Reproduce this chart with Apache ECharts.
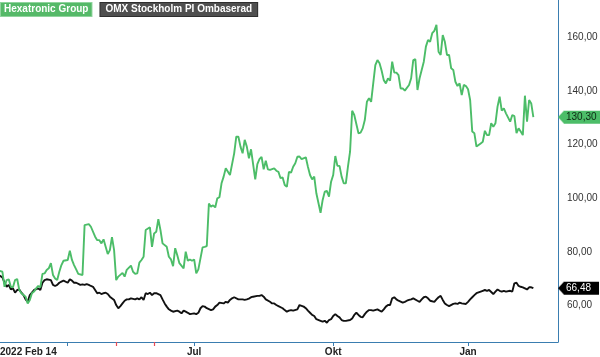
<!DOCTYPE html>
<html>
<head>
<meta charset="utf-8">
<script src="https://cdn.jsdelivr.net/npm/echarts@6/dist/echarts.min.js"></script>
<style>
html,body{margin:0;padding:0;background:#fff;}
#chart{width:600px;height:357px;}
</style>
</head>
<body>
<div id="chart"></div>
<script>
// ---- data: [trading day since 2022-02-14, value] ----
const hexatronic = [[0,73.3],[3,72.6],[4,67.0],[5,69.5],[6,69.8],[7,67.0],[8,66.8],[9,69.5],[10,69.9],[11,65.8],[12,64.6],[14,63.3],[15,60.8],[16,62.1],[17,64.6],[18,65.2],[19,66.4],[20,67.3],[21,66.8],[22,71.8],[23,72.0],[24,73.3],[25,73.9],[26,75.8],[27,71.4],[28,70.1],[29,69.5],[30,72.6],[31,75.1],[32,76.7],[34,77.0],[35,80.5],[36,77.0],[37,75.1],[38,73.5],[39,71.8],[41,71.4],[42,90.0],[44,90.4],[45,89.4],[47,85.7],[48,84.4],[49,84.4],[50,83.2],[51,84.7],[52,81.9],[53,79.2],[54,80.7],[55,85.5],[56,80.7],[57,69.5],[58,70.8],[60,72.2],[61,70.8],[62,73.3],[64,74.9],[65,72.6],[66,71.8],[67,72.0],[68,76.0],[69,77.0],[70,78.2],[71,88.2],[73,89.2],[74,81.9],[75,86.9],[76,87.5],[77,92.2],[78,88.2],[79,83.2],[81,81.9],[82,78.2],[83,77.2],[84,74.7],[85,81.4],[86,78.8],[87,75.8],[89,73.9],[90,80.1],[91,76.7],[92,77.2],[93,76.7],[94,77.2],[95,72.0],[96,73.5],[98,81.7],[99,81.9],[100,82.2],[101,98.1],[102,96.9],[103,97.4],[104,96.6],[105,100.0],[106,100.4],[107,105.6],[108,108.1],[109,111.2],[111,108.7],[113,116.8],[114,123.0],[115,123.0],[116,119.3],[117,116.8],[118,121.8],[119,119.3],[120,114.9],[121,118.3],[123,107.1],[124,112.8],[125,114.6],[126,115.5],[127,110.8],[128,114.0],[129,110.8],[130,110.6],[132,111.2],[133,110.3],[134,109.9],[135,107.5],[136,107.8],[137,105.0],[138,104.3],[139,109.9],[140,109.6],[141,111.8],[142,113.1],[143,115.5],[144,115.6],[145,114.6],[147,115.3],[148,111.8],[149,108.7],[150,107.1],[151,108.1],[152,101.9],[154,94.6],[155,99.4],[156,102.5],[157,102.8],[158,100.6],[159,106.2],[160,108.7],[161,115.8],[162,112.1],[163,112.1],[164,108.1],[165,105.6],[166,105.6],[167,111.8],[168,117.4],[169,132.7],[170,131.1],[172,124.3],[173,124.5],[174,126.1],[175,129.2],[176,136.0],[177,137.3],[178,136.0],[179,142.9],[180,149.7],[181,151.6],[182,150.4],[183,147.6],[184,144.1],[185,142.9],[186,144.8],[187,143.9],[188,151.0],[189,146.9],[190,146.9],[191,146.0],[192,141.0],[193,141.0],[194,140.2],[196,142.3],[197,144.8],[198,151.6],[199,151.9],[200,140.4],[201,144.8],[203,151.0],[204,156.6],[205,159.1],[206,158.4],[207,161.6],[208,162.5],[209,164.7],[210,154.7],[211,153.5],[212,160.9],[213,158.4],[214,153.5],[215,153.5],[216,148.5],[217,147.9],[218,143.5],[219,141.9],[220,142.9],[221,138.5],[222,142.3],[223,141.9],[224,140.7],[225,136.7],[226,124.9],[227,124.3],[228,119.3],[230,120.5],[231,121.1],[232,125.2],[233,123.6],[234,123.6],[235,128.0],[236,126.7],[237,128.0],[238,134.2],[239,137.9],[240,132.7],[241,133.6],[242,131.7],[244,128.6],[245,131.1],[246,130.7],[247,124.3],[248,126.1],[249,124.9],[250,123.6],[251,138.3],[252,128.6],[253,136.7],[254,135.4],[255,130.3]];

const omxRebased = [[0,72.0],[3,70.5],[4,68.5],[5,67.0],[6,67.7],[7,66.0],[8,66.4],[9,64.8],[10,65.8],[11,66.0],[12,64.8],[13,63.9],[14,62.3],[15,61.4],[16,63.9],[17,64.8],[18,65.8],[20,66.4],[21,65.8],[22,68.5],[23,69.5],[24,69.8],[26,69.5],[27,67.7],[28,67.3],[29,67.7],[30,68.5],[31,68.9],[32,69.3],[34,68.5],[35,69.8],[36,69.3],[37,68.5],[38,68.5],[40,67.7],[41,67.9],[42,67.7],[43,68.0],[44,67.7],[45,67.3],[46,67.0],[47,65.8],[48,64.6],[49,64.8],[50,64.3],[51,64.6],[52,64.8],[53,64.3],[54,63.3],[56,62.1],[57,60.2],[58,59.0],[59,59.8],[60,60.8],[61,61.8],[62,62.3],[63,62.3],[64,62.7],[66,62.3],[67,62.7],[68,62.3],[69,63.1],[70,62.1],[71,64.6],[72,64.3],[73,64.8],[74,63.9],[75,64.6],[76,64.6],[78,63.9],[79,62.3],[80,60.8],[81,59.6],[82,58.6],[83,58.1],[84,57.7],[86,58.1],[87,57.7],[88,57.1],[89,58.1],[90,57.7],[91,57.3],[92,56.8],[94,57.1],[95,56.8],[96,57.3],[97,59.0],[98,59.8],[99,59.6],[100,59.0],[102,58.3],[103,58.6],[104,59.6],[105,60.2],[106,61.1],[108,60.8],[109,61.4],[110,61.1],[111,62.1],[112,62.7],[113,63.1],[115,62.3],[117,62.3],[118,62.1],[119,62.3],[120,62.6],[121,63.1],[122,63.3],[124,63.6],[125,63.6],[126,63.9],[127,63.3],[128,62.3],[130,61.4],[131,60.8],[132,60.8],[133,60.2],[134,59.8],[136,59.0],[137,58.3],[138,57.7],[139,58.1],[140,58.3],[141,58.1],[143,58.6],[144,60.2],[146,59.6],[147,59.0],[148,58.1],[149,57.3],[150,56.5],[151,56.1],[152,54.9],[154,54.3],[155,54.0],[156,54.3],[157,53.6],[158,54.6],[159,54.9],[160,56.1],[161,56.8],[162,56.1],[163,55.6],[164,54.6],[165,54.3],[166,54.3],[168,54.6],[169,55.2],[170,56.5],[171,57.3],[172,56.5],[173,55.8],[174,55.6],[175,56.8],[176,57.7],[177,58.3],[178,58.3],[179,58.1],[181,58.6],[183,57.7],[184,58.6],[185,59.6],[186,60.2],[187,60.2],[188,62.7],[189,63.1],[190,62.3],[191,61.8],[193,61.1],[194,61.4],[195,61.8],[196,62.1],[197,62.3],[198,62.7],[200,61.8],[201,61.4],[202,62.3],[203,63.1],[204,63.3],[205,62.7],[206,61.8],[208,61.4],[209,62.3],[210,63.1],[211,63.6],[212,62.1],[213,60.8],[214,60.2],[215,59.8],[217,60.6],[218,60.8],[219,60.6],[220,61.1],[221,60.8],[223,60.6],[224,61.4],[225,62.3],[226,63.1],[227,63.9],[228,64.6],[230,65.2],[231,65.5],[232,65.8],[233,65.5],[234,65.8],[236,64.3],[237,65.2],[238,66.0],[239,65.5],[240,65.2],[241,65.5],[242,65.2],[244,65.5],[245,65.2],[246,68.3],[247,68.5],[248,67.3],[249,67.0],[250,66.8],[252,66.0],[253,66.8],[254,66.8],[255,66.48]];

const seriesNames = ['Hexatronic Group', 'OMX Stockholm PI Ombaserad'];
const yTickValues = [60, 80, 100, 120, 140, 160];
const monthTickDays = [34, 94, 160, 224];         // Apr, Jul, Okt, Jan
const monthLabelDays = [94, 160, 224];
const monthLabels = ['Jul', 'Okt', 'Jan'];
const startLabel = '2022 Feb 14';
const eventDays = [57, 75];
const xView = [1.85, 266.7];
const yView = [46.4, 174];

const GREEN = '#4cbd68', BLACK = '#111111', AXIS = '#3a7db0';
const FONT = 'Liberation Sans, Arial, sans-serif';
const fmt = v => v.toFixed(2).replace('.', ',');

function arrow(color) {
  const c = document.createElement('canvas');
  c.width = 6; c.height = 13;
  const g = c.getContext('2d');
  g.fillStyle = color;
  g.beginPath(); g.moveTo(0, 6.5); g.lineTo(6, 0); g.lineTo(6, 13); g.closePath(); g.fill();
  return c;
}

const lastHex = hexatronic[hexatronic.length - 1][1];
const lastOmx = omxRebased[omxRebased.length - 1][1];

function tagAxis(value, bg, fg) {
  return {
    type: 'value', position: 'right', min: yView[0], max: yView[1],
    axisLine: {show: false}, axisTick: {show: false}, splitLine: {show: false},
    axisLabel: {
      customValues: [value], margin: 0,
      formatter: v => '{a|}{b|' + fmt(v) + '}',
      rich: {
        a: {width: 6, height: 13, backgroundColor: {image: arrow(bg)}},
        b: {backgroundColor: bg, color: fg, fontSize: 10, fontFamily: FONT, height: 13, lineHeight: 13, padding: [0, 8, 0, 2]}
      }
    }
  };
}

const chart = echarts.init(document.getElementById('chart'), null, {renderer: 'canvas'});
chart.setOption({
  animation: false,
  textStyle: {fontFamily: FONT},
  grid: {left: 0, right: 42, top: 0, bottom: 15, containLabel: false, outerBoundsMode: 'none'},
  legend: {
    left: -4, top: 2, padding: 0, icon: 'none', itemWidth: 0, itemHeight: 0, itemGap: 3, selectedMode: false,
    textStyle: {fontSize: 10, fontWeight: 'bold', color: '#fff', fontFamily: FONT},
    data: [
      {name: seriesNames[0], textStyle: {backgroundColor: '#55b968', borderColor: '#8fd49d', borderWidth: 1, padding: [2, 3, 1, 3]}},
      {name: seriesNames[1], textStyle: {backgroundColor: '#4f4f4f', borderColor: '#2f2f2f', borderWidth: 1, padding: [2, 5, 1, 5]}}
    ]
  },
  xAxis: [
    {
      type: 'value', min: xView[0], max: xView[1],
      axisLine: {lineStyle: {color: AXIS, width: 1}},
      splitLine: {show: false},
      axisTick: {show: true, customValues: monthTickDays, length: 4, lineStyle: {color: AXIS}},
      axisLabel: {
        customValues: monthLabelDays, margin: 5, fontSize: 10, fontWeight: 'bold', color: '#222',
        formatter: v => monthLabels[monthLabelDays.indexOf(v)]
      }
    },
    {
      type: 'value', min: xView[0], max: xView[1], position: 'bottom',
      axisLine: {show: false}, splitLine: {show: false},
      axisTick: {show: true, customValues: eventDays, length: 4, lineStyle: {color: '#e84a55', width: 1.2}},
      axisLabel: {show: false}
    },
    {
      type: 'value', min: xView[0], max: xView[1], position: 'bottom',
      axisLine: {show: false}, splitLine: {show: false}, axisTick: {show: false},
      axisLabel: {customValues: [xView[0]], align: 'left', margin: 5, fontSize: 10, fontWeight: 'bold', color: '#222', formatter: () => startLabel}
    }
  ],
  yAxis: [
    {
      type: 'value', position: 'right', min: yView[0], max: yView[1],
      axisLine: {show: true, lineStyle: {color: AXIS, width: 1}},
      axisTick: {show: false}, splitLine: {show: false},
      axisLabel: {customValues: yTickValues, margin: 9, fontSize: 10, color: '#333', formatter: v => fmt(v)}
    },
    tagAxis(lastHex, GREEN, '#0d2a14'),
    tagAxis(lastOmx, '#000000', '#ffffff')
  ],
  series: [
    {
      name: seriesNames[1], type: 'line', data: omxRebased, xAxisIndex: 0, yAxisIndex: 0,
      showSymbol: false, color: BLACK, lineStyle: {color: BLACK, width: 1.9}, z: 2
    },
    {
      name: seriesNames[0], type: 'line', data: hexatronic, xAxisIndex: 0, yAxisIndex: 0,
      showSymbol: false, color: GREEN, lineStyle: {color: GREEN, width: 1.9}, z: 3
    }
  ]
});
</script>
</body>
</html>
